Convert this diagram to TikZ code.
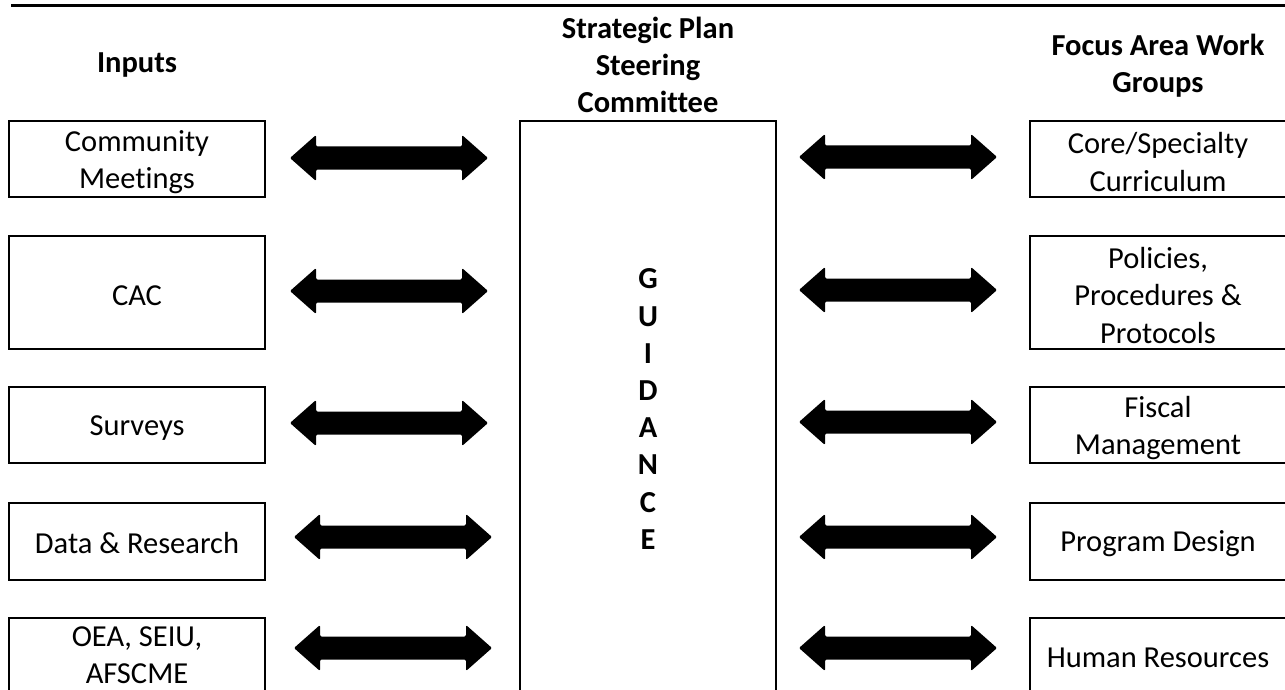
\documentclass[tikz,border=0pt]{standalone}
\usepackage{fontspec}
\setmainfont{Carlito}[Ligatures=NoCommon]
\begin{document}
\begin{tikzpicture}[x=1pt,y=-1pt,
  txt/.style={font=\fontsize{30.5}{37.2}\selectfont, align=center, inner sep=0pt},
  hdr/.style={txt, font=\fontsize{30.5}{37.2}\selectfont\bfseries},
  box/.style={draw=black, line width=2.6pt, minimum width=256, inner sep=0pt},
  dblarr/.pic={\fill[black, rounded corners=1.3pt] (-99,0) -- (-73,-23) -- (-73,-11.5) -- (73,-11.5) -- (73,-23) -- (99,0) -- (73,23) -- (73,11.5) -- (-73,11.5) -- (-73,23) -- cycle;}]
\useasboundingbox (0,0) rectangle (1285,690);
\clip (0,0) rectangle (1285,690);
% top rule
\coordinate (tl) at (11,6);
\coordinate (tr) at (1290,6);
\draw[line width=3pt] (tl) -- (tr);
% headers
\node[hdr] (hin) at (137,65) {Inputs};
\node[hdr] (hsc) at (648,65) {Strategic Plan\\Steering\\Committee};
\node[hdr] (hfa) at (1158,66) {Focus Area Work\\Groups};
% centre box
\node[box, minimum height=620] (sc) at (648,431) {};
\node[hdr] (guid) at (648,409) {G\\U\\I\\D\\A\\N\\C\\E};
% left boxes
\node[box, minimum height=76] (l1) at (137,159) {};
\node[box, minimum height=113] (l2) at (137,292.5) {};
\node[box, minimum height=76] (l3) at (137,425) {};
\node[box, minimum height=77] (l4) at (137,541.5) {};
\node[box, minimum height=78] (l5) at (137,657) {};
\node[txt] (t1) at ([yshift=-3pt]l1.center) {Community\\Meetings};
\node[txt] (t2) at ([yshift=-3pt]l2.center) {CAC};
\node[txt] (t3) at ([yshift=-3pt]l3.center) {Surveys};
\node[txt] (t4) at ([yshift=-2pt]l4.center) {Data \& Research};
\node[txt] (t5) at ([yshift=1.5pt]l5.center) {OEA, SEIU,\\AFSCME};
% right boxes
\node[box, minimum height=76] (r1) at (1158,159) {};
\node[box, minimum height=113] (r2) at (1158,292.5) {};
\node[box, minimum height=76] (r3) at (1158,425) {};
\node[box, minimum height=77] (r4) at (1158,541.5) {};
\node[box, minimum height=78] (r5) at (1158,657) {};
\node[txt] (s1) at ([yshift=-3pt]r1.center) {Core/Specialty\\Curriculum};
\node[txt] (s2) at ([yshift=-3pt]r2.center) {Policies,\\Procedures \&\\Protocols};
\node[txt] (s3) at ([yshift=-3pt]r3.center) {Fiscal\\Management};
\node[txt] (s4) at ([yshift=-2pt]r4.center) {Program Design};
\node[txt] (s5) at ([yshift=-1pt]r5.center) {Human Resources};
% double block arrows
\pic (al1) at (389,158) {dblarr};
\pic (al2) at (389,291) {dblarr};
\pic (al3) at (389,423) {dblarr};
\pic (al4) at (393,537) {dblarr};
\pic (al5) at (393,648) {dblarr};
\pic (ar1) at (898,157) {dblarr};
\pic (ar2) at (898,290) {dblarr};
\pic (ar3) at (898,422) {dblarr};
\pic (ar4) at (898,537) {dblarr};
\pic (ar5) at (898,648) {dblarr};
\end{tikzpicture}
\end{document}
